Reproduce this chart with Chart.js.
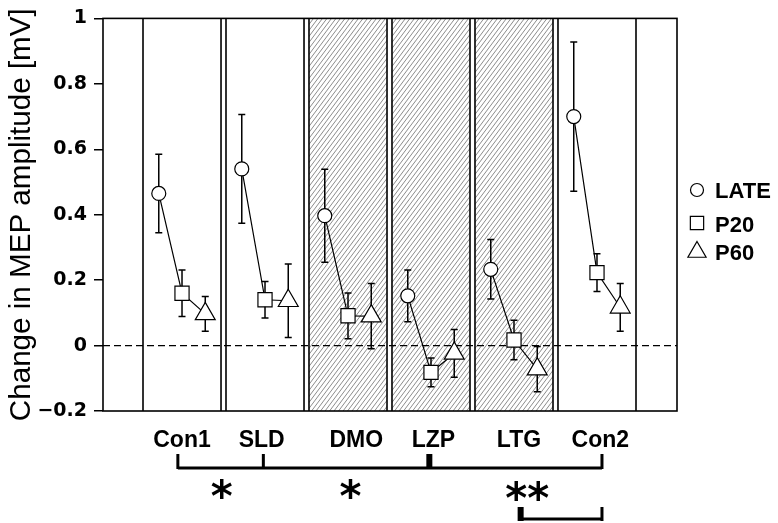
<!DOCTYPE html>
<html>
<head>
<meta charset="utf-8">
<script src="https://cdn.jsdelivr.net/npm/chart.js@4.4.0/dist/chart.umd.min.js"></script>
<style>
    body { margin: 0; background: #fff; }
    #wrap { width: 778px; height: 523px; }
</style>
</head>
<body>
<div id="wrap"><canvas id="myChart" width="778" height="523"></canvas></div>
<script>
let categories = ['Con1', 'SLD', 'DMO', 'LZP', 'LTG', 'Con2'];
let hatchedGroups = ['DMO', 'LZP', 'LTG'];
let seriesNames = ['LATE', 'P20', 'P60'];
let lateValues = [0.465, 0.54, 0.397, 0.152, 0.233, 0.70];
let lateErrors = [0.12, 0.166, 0.142, 0.079, 0.091, 0.228];
let p20Values = [0.16, 0.14, 0.091, -0.082, 0.017, 0.223];
let p20Errors = [0.071, 0.056, 0.07, 0.044, 0.06, 0.058];
let p60Values = [0.097, 0.137, 0.09, -0.024, -0.072, 0.117];
let p60Errors = [0.053, 0.112, 0.1, 0.073, 0.069, 0.073];
let yTicks = [-0.2, 0, 0.2, 0.4, 0.6, 0.8, 1];
// where the group names sit on the x axis (group units)
let labelSpots = [0.47, 1.43, 2.57, 3.5, 4.53, 5.51];
// significance marks under the axis
let longBracket = [0.42, 1.45, 3.45, 5.53];
let shortBracket = [4.55, 5.53];
let starLabels = ['*', '*', '**'];
let starSpots = [0.95, 2.5, 4.63];

let offsets = [0.19, 0.47, 0.75];
let panelWidth = 0.94;
let seriesValues = [lateValues, p20Values, p60Values];
let seriesErrors = [lateErrors, p20Errors, p60Errors];
let styles = [
    {pointStyle: 'circle', radius: 7}
    , {pointStyle: 'rect', radius: 10}
    , {pointStyle: 'triangle', radius: 11.5}
];

const toPoints = (vals, off) => vals.map((v, i) => ({x: i + off, y: v}));

let datasets = [];
for (let s = 0; s < seriesNames.length; s++) {
    datasets.push({
        label: seriesNames[s],
        data: toPoints(seriesValues[s], offsets[s]),
        pointStyle: styles[s].pointStyle,
        pointRadius: styles[s].radius,
        backgroundColor: '#fff',
        borderColor: '#000',
        borderWidth: 1.2,
        showLine: false,
        order: 0,
    });
}
for (let i = 0; i < categories.length; i++) {
    datasets.push({
        label: categories[i] + '-line',
        data: seriesValues.map((vals, s) => ({x: i + offsets[s], y: vals[i]})),
        showLine: true,
        pointRadius: 0,
        borderColor: '#000',
        borderWidth: 1.2,
        order: 1,
    });
}

const panels = {
    id: 'panels',
    beforeDatasetsDraw(chart) {
        let {ctx, chartArea: a, scales: {x, y}} = chart;
        let h = a.bottom - a.top;
        ctx.save();
        for (let i = 0; i < categories.length; i++) {
            let x0 = x.getPixelForValue(i);
            let x1 = x.getPixelForValue(i + panelWidth);
            if (hatchedGroups.includes(categories[i])) {
                ctx.save();
                ctx.beginPath();
                ctx.rect(x0, a.top, x1 - x0, h);
                ctx.clip();
                ctx.strokeStyle = '#8c8c8c';
                ctx.lineWidth = 1;
                ctx.beginPath();
                for (let s = x0 - h * 0.75; s < x1; s += 4.5) {
                    ctx.moveTo(s, a.bottom);
                    ctx.lineTo(s + h * 0.75, a.top);
                }
                ctx.stroke();
                ctx.restore();
            }
            ctx.strokeStyle = '#000';
            ctx.lineWidth = 1.6;
            ctx.beginPath();
            ctx.moveTo(x0, a.top);
            ctx.lineTo(x0, a.bottom);
            ctx.moveTo(x1, a.top);
            ctx.lineTo(x1, a.bottom);
            ctx.stroke();
        }
        // zero line
        let y0 = y.getPixelForValue(0);
        ctx.setLineDash([7, 4]);
        ctx.lineWidth = 1.2;
        ctx.beginPath();
        ctx.moveTo(a.left, y0);
        ctx.lineTo(a.right, y0);
        ctx.stroke();
        ctx.setLineDash([]);
        // error bars
        ctx.lineWidth = 1.5;
        ctx.beginPath();
        for (let s = 0; s < seriesValues.length; s++) {
            for (let i = 0; i < categories.length; i++) {
                let px = x.getPixelForValue(i + offsets[s]);
                let top = y.getPixelForValue(seriesValues[s][i] + seriesErrors[s][i]);
                let bot = y.getPixelForValue(seriesValues[s][i] - seriesErrors[s][i]);
                ctx.moveTo(px, top);
                ctx.lineTo(px, bot);
                ctx.moveTo(px - 3.5, top);
                ctx.lineTo(px + 3.5, top);
                ctx.moveTo(px - 3.5, bot);
                ctx.lineTo(px + 3.5, bot);
            }
        }
        ctx.stroke();
        ctx.restore();
    },
    afterDatasetsDraw(chart) {
        let {ctx, chartArea: a} = chart;
        ctx.save();
        ctx.strokeStyle = '#000';
        ctx.lineWidth = 1.6;
        ctx.strokeRect(a.left, a.top, a.right - a.left, a.bottom - a.top);
        ctx.restore();
    },
    afterDraw(chart) {
        let {ctx, scales: {x}} = chart;
        ctx.save();
        ctx.strokeStyle = '#000';
        ctx.fillStyle = '#000';
        // long bracket
        let bx = longBracket.map(v => x.getPixelForValue(v));
        ctx.lineWidth = 3;
        ctx.beginPath();
        ctx.moveTo(bx[0], 468);
        ctx.lineTo(bx[bx.length - 1], 468);
        ctx.stroke();
        bx.forEach((p, k) => {
            let w = k === 2 ? 6 : 3;
            ctx.fillRect(p - w / 2, 454, w, 15);
        });
        // short bracket
        let sx = shortBracket.map(v => x.getPixelForValue(v));
        ctx.beginPath();
        ctx.moveTo(sx[0], 519);
        ctx.lineTo(sx[1], 519);
        ctx.stroke();
        ctx.fillRect(sx[0] - 3, 507, 6, 14);
        ctx.fillRect(sx[1] - 1.5, 507, 3, 14);
        // stars
        ctx.font = 'bold 42px "DejaVu Sans"';
        ctx.textAlign = 'center';
        ctx.textBaseline = 'alphabetic';
        starLabels.forEach((t, k) => {
            let m = ctx.measureText(t);
            let mid = (m.actualBoundingBoxAscent - m.actualBoundingBoxDescent) / 2;
            ctx.fillText(t, x.getPixelForValue(starSpots[k]), (k === 2 ? 491 : 489) + mid);
        });
        // legend
        let rows = [
            {y: 190, r: 6.5, base: 197.5}
            , {y: 223, r: 9.4, base: 231.5}
            , {y: 252, r: 10.5, base: 260}
        ];
        ctx.lineWidth = 1.2;
        ctx.textAlign = 'left';
        ctx.font = 'bold 22px "Liberation Sans"';
        for (let s = 0; s < seriesNames.length; s++) {
            ctx.fillStyle = '#fff';
            Chart.helpers.drawPoint(ctx, {pointStyle: styles[s].pointStyle, radius: rows[s].r, rotation: 0, borderWidth: 1.2}, 697, rows[s].y);
            ctx.fillStyle = '#000';
            ctx.fillText(seriesNames[s], 715, rows[s].base);
        }
        ctx.restore();
    }
};

let canvas = document.getElementById('myChart');
let ctx = canvas.getContext('2d');
let myChart = new Chart(ctx, {
    type: 'scatter',
    data: {datasets: datasets},
    plugins: [panels],
    options: {
        responsive: false,
        animation: false,
        devicePixelRatio: 1,
        layout: {padding: {left: 0, top: 12, right: 101, bottom: 0}},
        plugins: {legend: {display: false}, tooltip: {enabled: false}},
        scales: {
            x: {
                type: 'linear',
                min: -0.482,
                max: 6.434,
                afterBuildTicks: (axis) => { axis.ticks = labelSpots.map(v => ({value: v})); },
                afterFit: (axis) => { axis.height = 112; },
                ticks: {
                    callback: (v, i) => categories[i],
                    color: '#000',
                    font: {family: 'Liberation Sans', size: 23, weight: 'bold'},
                    padding: 16,
                    autoSkip: false,
                    maxRotation: 0,
                },
                grid: {display: false, drawTicks: false},
                border: {display: false},
            },
            y: {
                min: -0.2,
                max: 1,
                afterBuildTicks: (axis) => { axis.ticks = yTicks.map(v => ({value: v})); },
                afterFit: (axis) => { axis.width = 103; },
                ticks: {
                    callback: (v) => String(+v.toFixed(1)).replace('-', '\u2212'),
                    color: '#000',
                    font: {family: 'DejaVu Sans', size: 19, weight: 'bold'},
                    padding: 7,
                },
                grid: {drawOnChartArea: false, drawTicks: true, tickLength: 9, color: '#000', lineWidth: 1.5},
                border: {display: false},
                title: {
                    display: true,
                    text: 'Change in MEP amplitude [mV]',
                    color: '#000',
                    font: {family: 'Liberation Sans', size: 29.6, weight: 'normal'},
                    padding: {top: 3.6, bottom: 0},
                },
            },
        },
    },
});
</script>
</body>
</html>
